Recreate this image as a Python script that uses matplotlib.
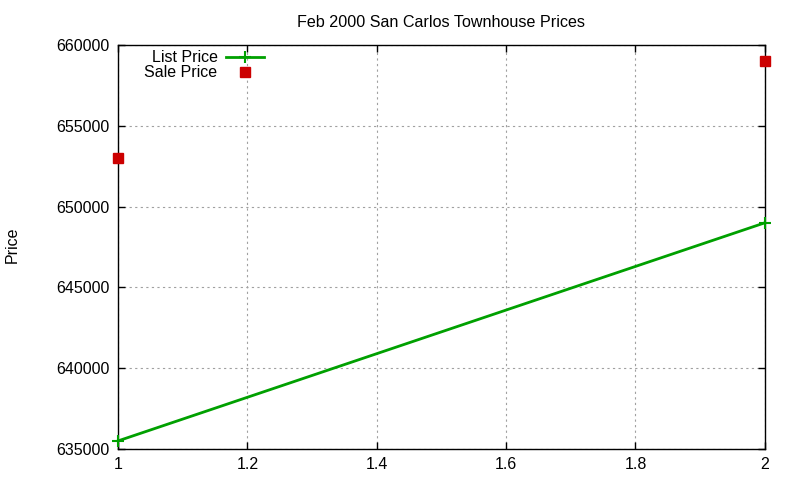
import matplotlib
matplotlib.use('Agg')
import matplotlib.pyplot as plt

# datos
list_x = [1, 2]
list_price = [635500, 649000]
sale_x = [1, 2]
sale_price = [653000, 659000]

x_ticks = [1, 1.2, 1.4, 1.6, 1.8, 2]
y_ticks = [635000, 640000, 645000, 650000, 655000, 660000]

plt.rcParams['font.family'] = ['Liberation Sans', 'DejaVu Sans']
plt.rcParams['font.size'] = 11.5

fig = plt.figure(figsize=(8, 4.8), dpi=100)
ax = fig.add_axes([0.1475, 0.0646, 0.956 - 0.1475, 0.906 - 0.0646])

ax.plot(list_x, list_price, color='#00a000', linewidth=2, marker='+',
        markersize=8, markeredgewidth=1.5, label='List Price', clip_on=False, zorder=3)
ax.plot(sale_x, sale_price, linestyle='none', color='#cc0000', marker='s',
        markersize=6.5, label='Sale Price', clip_on=False, zorder=3)

ax.set_xlim(1, 2)
ax.set_ylim(635000, 660000)
ax.set_xticks(x_ticks)
ax.set_xticklabels(['1', '1.2', '1.4', '1.6', '1.8', '2'])
ax.set_yticks(y_ticks)
ax.set_yticklabels([str(v) for v in y_ticks])
ax.tick_params(direction='in', length=5, width=1, top=True, right=True, pad=6)
ax.grid(True, color='#a0a0a0', linestyle=(0, (2, 3)), linewidth=0.8)
for s in ax.spines.values():
    s.set_linewidth(1)

ax.set_title('Feb 2000 San Carlos Townhouse Prices', fontsize=11.6, pad=13)
fig.text(0.015, 0.49, 'Price', rotation=90, va='center', ha='center')

leg = ax.legend(loc='upper left', bbox_to_anchor=(0.031, 1.003), frameon=False,
                markerfirst=False, handlelength=2.4, labelspacing=0.0,
                handletextpad=0.5, borderaxespad=0)

plt.savefig('out.png', dpi=100)
